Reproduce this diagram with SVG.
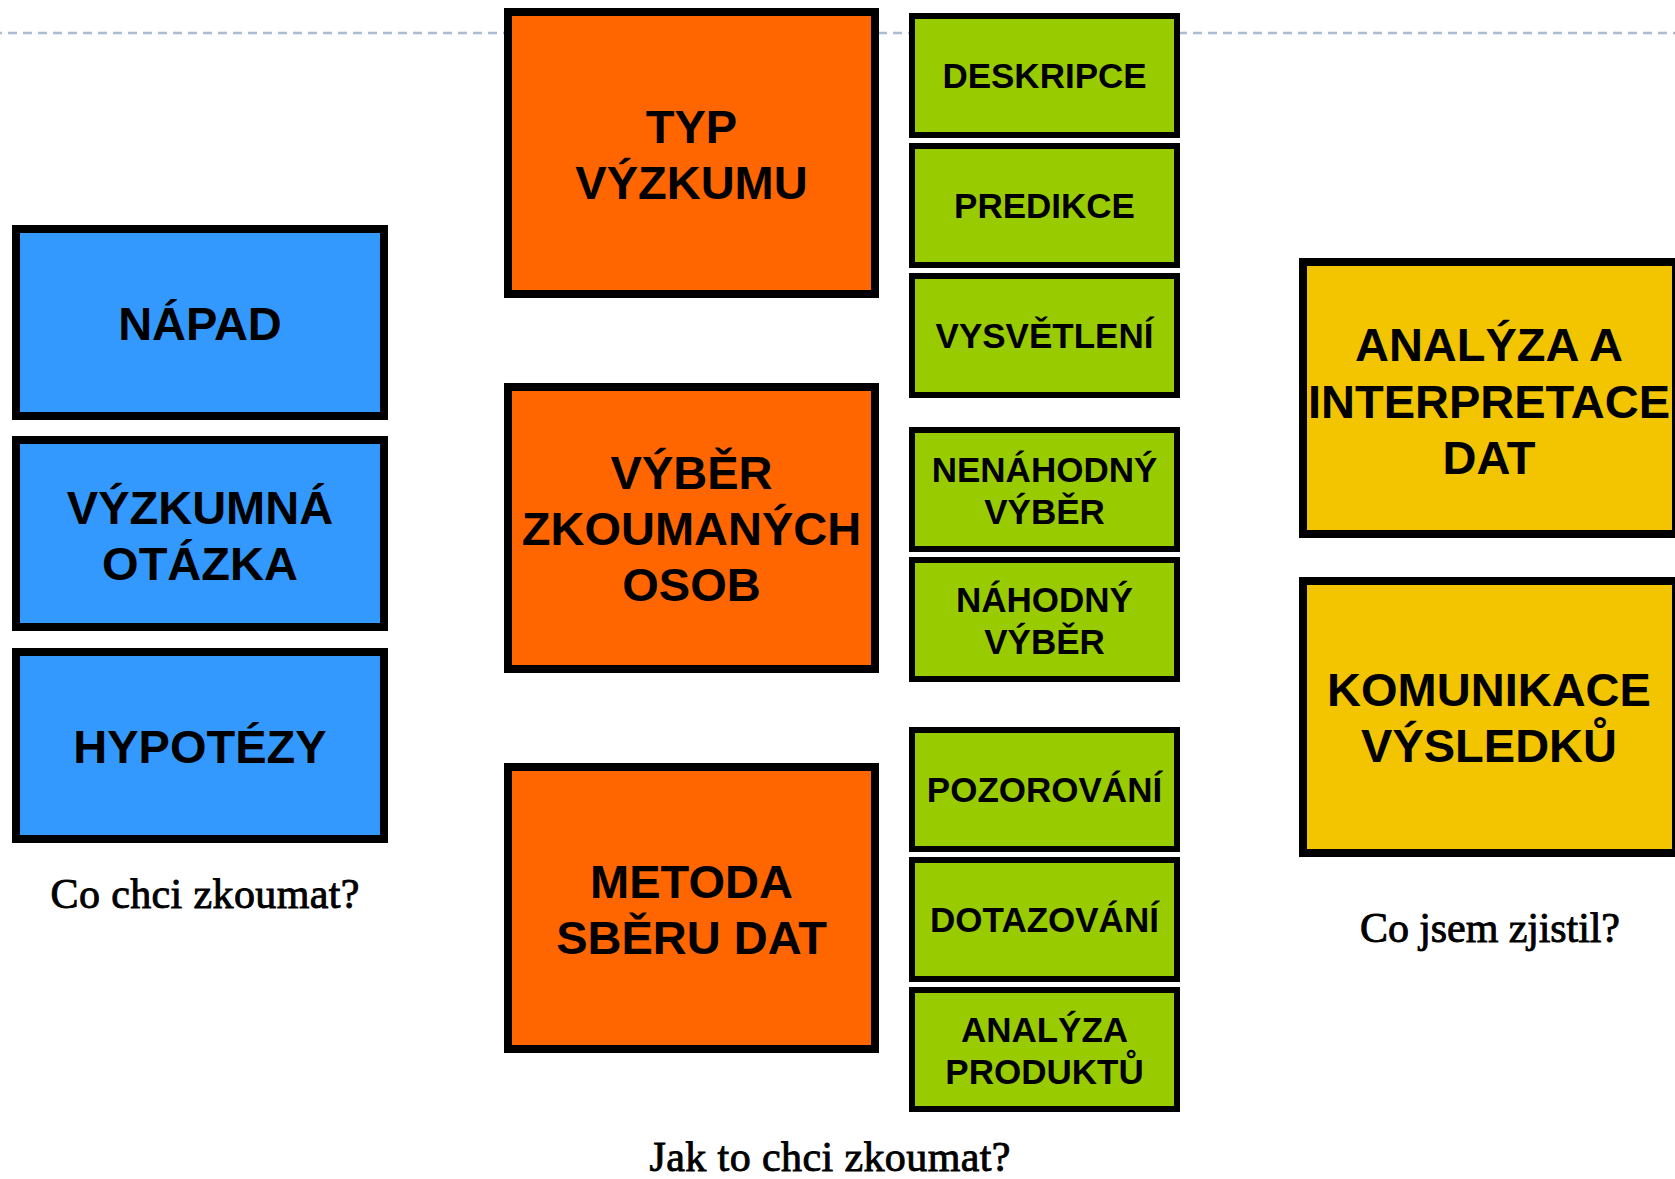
<svg xmlns="http://www.w3.org/2000/svg" width="1675" height="1179" viewBox="0 0 1675 1179">
<style>
.blue{fill:#3399ff;stroke:#000;stroke-width:8}
.orange{fill:#ff6600;stroke:#000;stroke-width:8}
.green{fill:#99cc00;stroke:#000;stroke-width:6}
.yellow{fill:#f2c500;stroke:#000;stroke-width:8}
.big{font-family:"Liberation Sans",Arial,sans-serif;font-weight:bold;font-size:47px;fill:#000;text-anchor:middle}
.small{font-family:"Liberation Sans",Arial,sans-serif;font-weight:bold;font-size:35px;fill:#000;text-anchor:middle}
.cap{font-family:"Liberation Serif","Times New Roman",serif;font-size:42px;fill:#000;stroke:#000;stroke-width:0.9;text-anchor:middle}
</style>
<rect x="0" y="0" width="1675" height="1179" fill="#fff"/>
<g id="guide">
<line x1="0" y1="33" x2="1675" y2="33" stroke="#a9bcd2" stroke-width="2.5" stroke-dasharray="9 6" stroke-dashoffset="7"/>
</g>
<g id="connectors"></g>
<g id="napad"><rect class="blue" x="16" y="229" width="368" height="187"/><text class="big" x="200" y="340">NÁPAD</text></g>
<g id="vyzkumna-otazka"><rect class="blue" x="16" y="440" width="368" height="187"/><text class="big" x="200" y="524">VÝZKUMNÁ</text><text class="big" x="200" y="580">OTÁZKA</text></g>
<g id="hypotezy"><rect class="blue" x="16" y="652" width="368" height="187"/><text class="big" x="200" y="763">HYPOTÉZY</text></g>
<g id="label-co-chci"><text class="cap" x="205" y="908" textLength="309">Co chci zkoumat?</text></g>

<g id="typ-vyzkumu"><rect class="orange" x="508" y="12" width="367" height="282"/><text class="big" x="691.5" y="143">TYP</text><text class="big" x="691.5" y="199">VÝZKUMU</text></g>
<g id="vyber-osob"><rect class="orange" x="508" y="387" width="367" height="282"/><text class="big" x="691.5" y="489">VÝBĚR</text><text class="big" x="691.5" y="545">ZKOUMANÝCH</text><text class="big" x="691.5" y="601">OSOB</text></g>
<g id="metoda"><rect class="orange" x="508" y="767" width="367" height="282"/><text class="big" x="691.5" y="898">METODA</text><text class="big" x="691.5" y="954">SBĚRU DAT</text></g>

<g id="deskripce"><rect class="green" x="912" y="16" width="265" height="119"/><text class="small" x="1044.5" y="88">DESKRIPCE</text></g>
<g id="predikce"><rect class="green" x="912" y="146" width="265" height="119"/><text class="small" x="1044.5" y="218">PREDIKCE</text></g>
<g id="vysvetleni"><rect class="green" x="912" y="276" width="265" height="119"/><text class="small" x="1044.5" y="348">VYSVĚTLENÍ</text></g>
<g id="nenahodny"><rect class="green" x="912" y="430" width="265" height="119"/><text class="small" x="1044.5" y="482">NENÁHODNÝ</text><text class="small" x="1044.5" y="524">VÝBĚR</text></g>
<g id="nahodny"><rect class="green" x="912" y="560" width="265" height="119"/><text class="small" x="1044.5" y="612">NÁHODNÝ</text><text class="small" x="1044.5" y="654">VÝBĚR</text></g>
<g id="pozorovani"><rect class="green" x="912" y="730" width="265" height="119"/><text class="small" x="1044.5" y="802">POZOROVÁNÍ</text></g>
<g id="dotazovani"><rect class="green" x="912" y="860" width="265" height="119"/><text class="small" x="1044.5" y="932">DOTAZOVÁNÍ</text></g>
<g id="analyza-produktu"><rect class="green" x="912" y="990" width="265" height="119"/><text class="small" x="1044.5" y="1042">ANALÝZA</text><text class="small" x="1044.5" y="1084">PRODUKTŮ</text></g>
<g id="label-jak"><text class="cap" x="830" y="1171" textLength="361">Jak to chci zkoumat?</text></g>

<g id="analyza-interpretace"><rect class="yellow" x="1303" y="262" width="373" height="272"/><text class="big" x="1489" y="361">ANALÝZA A</text><text class="big" x="1489" y="418">INTERPRETACE</text><text class="big" x="1489" y="474">DAT</text></g>
<g id="komunikace"><rect class="yellow" x="1303" y="581" width="373" height="272"/><text class="big" x="1489" y="706">KOMUNIKACE</text><text class="big" x="1489" y="762">VÝSLEDKŮ</text></g>
<g id="label-co-jsem"><text class="cap" x="1490" y="942" textLength="260">Co jsem zjistil?</text></g>
</svg>
